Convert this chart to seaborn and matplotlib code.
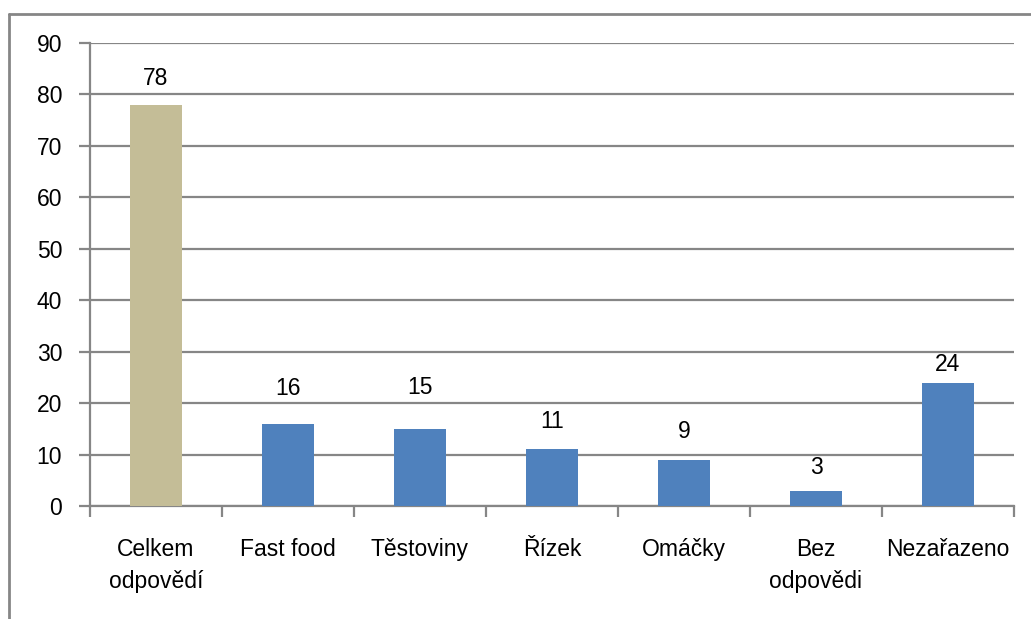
import matplotlib
matplotlib.use("Agg")
import matplotlib.pyplot as plt
from matplotlib.lines import Line2D
import seaborn as sns
import pandas as pd
import numpy as np

categories = ["Celkem\nodpovědí", "Fast food", "Těstoviny", "Řízek",
              "Omáčky", "Bez\nodpovědi", "Nezařazeno"]
values = [78, 16, 15, 11, 9, 3, 24]
bar_colors = ["#C4BD97", "#4F81BD", "#4F81BD", "#4F81BD",
              "#4F81BD", "#4F81BD", "#4F81BD"]
y_ticks = [0, 10, 20, 30, 40, 50, 60, 70, 80, 90]

# vertical distance (pixels) from each bar top to the centre of its value label
label_lift_px = [26, 35, 41, 28, 28, 23, 18]

sns.set_theme(style="white")
plt.rcParams["font.family"] = ["Liberation Sans", "DejaVu Sans"]

df = pd.DataFrame({"kategorie": categories, "pocet": values})

fig = plt.figure(figsize=(10.31, 6.19), dpi=100)
ax = fig.add_axes([0.0873, 0.1826, 0.8962, 0.7479])

sns.barplot(data=df, x="kategorie", y="pocet", hue="kategorie",
            palette=bar_colors, saturation=1, width=0.4, legend=False,
            ax=ax, linewidth=0, zorder=3)

grid_color = "#868686"
fs = 16.5
ax.set_ylim(0, 90)
ax.set_xlim(-0.5, len(categories) - 0.5)
ax.set_yticks(y_ticks)
ax.set_yticklabels([str(t) for t in y_ticks], fontsize=fs, color="black")
ax.yaxis.grid(True, color=grid_color, linewidth=1.6, zorder=0)
ax.set_axisbelow(True)

for side in ["top", "right"]:
    ax.spines[side].set_visible(False)
for side in ["left", "bottom"]:
    ax.spines[side].set_color(grid_color)
    ax.spines[side].set_linewidth(1.6)

# category labels centred under bars, tick marks at category boundaries
ax.set_xticks(range(len(categories)))
ax.set_xticklabels(categories, fontsize=fs, linespacing=1.5, va="top",
                   color="black")
ax.tick_params(axis="x", which="major", length=0, pad=23)
ax.set_xticks(np.arange(-0.5, len(categories), 1.0), minor=True)
ax.tick_params(axis="x", which="minor", length=8, width=1.6,
               color=grid_color, direction="out", bottom=True)
ax.tick_params(axis="y", length=8, width=1.6, color=grid_color,
               direction="out", left=True, pad=12)
ax.set_xlabel("")
ax.set_ylabel("")

for i, (v, lift) in enumerate(zip(values, label_lift_px)):
    ax.annotate(str(v), xy=(i, v), xytext=(0, lift * 0.72),
                textcoords="offset points", ha="center", va="center",
                fontsize=fs, color="black")

# outer chart frame
fig.add_artist(Line2D([9 / 1031, 1.0], [1 - 13.5 / 619, 1 - 13.5 / 619],
                      transform=fig.transFigure, color=grid_color, linewidth=2))
fig.add_artist(Line2D([9 / 1031, 9 / 1031], [0.0, 1 - 13.5 / 619],
                      transform=fig.transFigure, color=grid_color, linewidth=2))

fig.savefig("out.png", dpi=100)
